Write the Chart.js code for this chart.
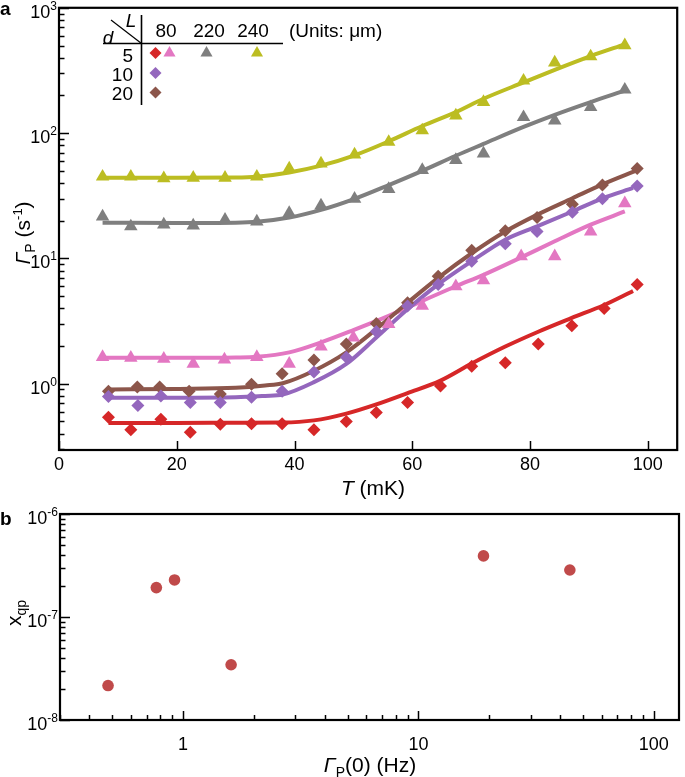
<!DOCTYPE html>
<html><head><meta charset="utf-8">
<script src="https://cdn.jsdelivr.net/npm/chart.js@4/dist/chart.umd.min.js"></script>
<style>
body{margin:0;background:#fff;width:685px;height:777px;position:relative;overflow:hidden;font-family:"Liberation Sans",Arial,sans-serif;}
canvas{position:absolute;left:0;}
#ca{top:0}
#cb{top:500px}
.t{position:absolute;font-size:18px;color:#000;white-space:nowrap;line-height:1;}
.g{font-size:19px;}
.ti{font-size:21px;}
.c{transform:translate(-50%,-50%);}
.r{transform:translate(-100%,-50%);}
.l{transform:translate(0,-50%);}
.t sub{font-size:14px;vertical-align:-5px;line-height:0;}
.t sup{font-size:13px;vertical-align:8px;line-height:0;}
.tk sup{font-size:12px;vertical-align:8px;}
</style></head><body>
<canvas id="ca" width="685" height="500"></canvas>
<canvas id="cb" width="685" height="277"></canvas>

<div class="t l" style="left:0;top:8px;font-weight:bold;font-size:19px">a</div>
<div class="t l" style="left:0;top:518px;font-weight:bold;font-size:19px">b</div>

<div class="t g c" style="left:131px;top:20px;font-style:italic">L</div>
<div class="t g c" style="left:108px;top:37px;font-style:italic">d</div>
<div class="t g c" style="left:166px;top:30px">80</div>
<div class="t g c" style="left:209px;top:30px">220</div>
<div class="t g c" style="left:253px;top:30px">240</div>
<div class="t g l" style="left:289px;top:30px">(Units: μm)</div>
<div class="t g r" style="left:133px;top:55px">5</div>
<div class="t g r" style="left:133px;top:74px">10</div>
<div class="t g r" style="left:133px;top:93px">20</div>

<div class="t ti" style="left:22px;top:233px;transform:translate(-50%,-50%) rotate(-90deg)"><i>Γ</i><sub>P</sub> (s<sup>-1</sup>)</div>
<div class="t ti c" style="left:373px;top:487px"><i>T</i> (mK)</div>
<div class="t ti" style="left:13px;top:613px;transform:translate(-50%,-50%) rotate(-90deg)">x<sub>qp</sub></div>
<div class="t ti c" style="left:370px;top:764px"><i>Γ</i><sub>P</sub>(0) (Hz)</div>

<script>
// ---------- Panel a data ----------
const redT   = [8.4, 12.2, 17.3, 22.3, 27.4, 32.7, 37.9, 43.3, 48.8, 53.9, 59.2, 64.8, 70.1, 75.8, 81.4, 87.1, 92.6, 98.2];
const redV   = [0.54, 0.43, 0.52, 0.41, 0.475, 0.48, 0.48, 0.43, 0.50, 0.59, 0.71, 0.96, 1.38, 1.47, 2.08, 2.90, 3.98, 6.2];
const purpleT = [8.4, 13.4, 17.3, 22.3, 27.4, 32.7, 37.9, 43.3, 48.8, 53.9, 59.2, 64.4, 70.1, 75.8, 81.2, 87.2, 92.3, 98.2];
const purpleV = [0.79, 0.67, 0.80, 0.71, 0.71, 0.78, 0.87, 1.24, 1.63, 2.61, 4.18, 6.2, 9.5, 13.1, 16.4, 23.4, 29.9, 37.9];
const brownT = [8.4, 13.3, 17.1, 22.1, 27.4, 32.7, 37.9, 43.3, 48.8, 53.9, 59.2, 64.4, 70.1, 75.8, 81.2, 87.2, 92.3, 98.2];
const brownV = [0.87, 0.94, 0.94, 0.87, 0.83, 0.99, 1.20, 1.55, 2.08, 3.02, 4.43, 7.2, 11.6, 16.6, 21.2, 27.1, 38.5, 52.2];
const pinkT  = [7.4, 12.2, 17.8, 22.8, 28.1, 33.6, 39.1, 44.5, 50.0, 56.0, 61.7, 67.4, 72.1, 78.5, 84.2, 90.3, 96.1];
const pinkV  = [1.63, 1.61, 1.58, 1.44, 1.56, 1.63, 1.44, 1.98, 2.34, 2.99, 4.18, 6.0, 6.7, 10.4, 10.4, 16.4, 27.5];
const grayT  = [7.4, 12.2, 17.8, 22.8, 28.2, 33.6, 39.1, 44.5, 50.2, 56.0, 61.7, 67.4, 72.1, 78.9, 84.2, 90.3, 96.1];
const grayV  = [21.6, 18.0, 18.6, 18.3, 20.3, 19.7, 23.0, 26.4, 29.9, 35.8, 50.7, 60.9, 68.7, 134, 126, 161, 222];
const yellowT = [7.4, 12.2, 17.8, 22.8, 28.2, 33.6, 39.1, 44.5, 50.2, 56.0, 61.7, 67.4, 72.1, 78.9, 84.2, 90.3, 96.1];
const yellowV = [44.9, 44.9, 43.5, 44.0, 44.0, 44.9, 52.2, 57.2, 67.4, 85, 105, 138, 177, 262, 366, 409, 502];

// fit curves
const redFitT = [8.4, 20, 30, 38, 43.3, 48.8, 53.9, 59.2, 64.8, 70.1, 75.8, 81.4, 87.1, 92.6, 97.5];
const redFitV = [0.487, 0.487, 0.488, 0.49, 0.51, 0.578, 0.685, 0.843, 1.06, 1.45, 1.98, 2.6, 3.35, 4.25, 5.5];
const purpleFitT = [8.4, 20, 30, 35, 38, 43.3, 48.8, 53.9, 59.2, 64.4, 70.1, 75.8, 81.2, 87.2, 92.3, 97.5];
const purpleFitV = [0.774, 0.774, 0.78, 0.80, 0.82, 1.03, 1.44, 2.34, 3.93, 6.2, 9.5, 14.1, 18.0, 23.7, 30.2, 36.5];
const brownFitT = [8.4, 20, 30, 35, 38, 43.3, 48.8, 53.9, 59.2, 64.4, 70.1, 75.8, 81.2, 87.2, 92.3, 98.2];
const brownFitV = [0.90, 0.91, 0.93, 0.97, 1.01, 1.27, 1.78, 2.73, 4.43, 7.0, 11.0, 16.4, 22.3, 30.2, 39, 50.6];
const pinkFitT = [7.4, 20, 30, 33.6, 39.1, 44.5, 50.0, 56.0, 61.7, 67.4, 72.1, 78.5, 84.2, 90.3, 96.1];
const pinkFitV = [1.61, 1.61, 1.62, 1.64, 1.78, 2.14, 2.68, 3.48, 4.58, 6.0, 7.4, 10.2, 13.7, 18.6, 23.7];
const grayFitT = [7.4, 20, 30, 33.6, 39.1, 44.5, 50.2, 56.0, 61.7, 67.4, 72.1, 78.9, 84.2, 90.3, 96.1];
const grayFitV = [19.3, 19.2, 19.3, 19.6, 21.2, 24.4, 29.9, 38.5, 50, 66, 82, 112, 140, 177, 218];
const yellowFitT = [7.4, 20, 30, 33.6, 39.1, 44.5, 50.2, 56.0, 61.7, 67.4, 72.1, 78.9, 84.2, 90.3, 96.1];
const yellowFitV = [44, 44, 44.2, 44.9, 48.5, 55, 66.5, 86, 114, 147, 188, 254, 320, 412, 511];

// ---------- Panel b data ----------
const gamma0 = [0.48, 0.77, 0.92, 1.60, 18.9, 44.0];
const xqp    = [2.16e-8, 1.93e-7, 2.29e-7, 3.44e-8, 3.92e-7, 2.86e-7];

// tick labels
const aXTicks = [0, 20, 40, 60, 80, 100];
const bXTicks = [1, 10, 100];

const COLORS = {red:'#d62728', purple:'#9467bd', brown:'#8c564b', pink:'#e377c2', gray:'#7f7f7f', yellow:'#bcbd22', dot:'#c04a4a'};
const FONT = {family:"'Liberation Sans', Arial, sans-serif", size:18};

const mk = (xs, ys) => xs.map((x, i) => ({x: x, y: ys[i]}));
const fitDs = (xs, ys, color) => ({data: mk(xs, ys), showLine: true, borderColor: color, borderWidth: 4,
  pointRadius: 0, pointHoverRadius: 0, cubicInterpolationMode: 'monotone', fill: false, order: 2});
const ptDs = (xs, ys, color, style) => ({data: mk(xs, ys), showLine: false, backgroundColor: color, borderColor: color,
  borderWidth: 0, pointStyle: style, pointRadius: style === 'triangle' ? 7.8 : 6.5, order: 1});

function logPositions(min, max) {
  const out = [];
  for (let e = Math.floor(Math.log10(min)) - 1; e <= Math.ceil(Math.log10(max)); e++) {
    for (let m = 1; m <= 9; m++) {
      const v = m * Math.pow(10, e);
      if (v >= min * 0.999 && v <= max * 1.001) out.push({v: v, major: m === 1, e: e});
    }
  }
  return out;
}
const plainDecade = (v) => {
  const e = Math.log10(v);
  const r = Math.round(e);
  return Math.abs(e - r) < 1e-6 ? String(Math.round(v)) : '';
};

function drawFrame(chart, opts) {
  const {ctx, chartArea: a} = chart;
  ctx.save();
  ctx.strokeStyle = '#000';
  ctx.lineWidth = 1.5;
  const ys = chart.scales.y, xs = chart.scales.x;
  logPositions(ys.min, ys.max).forEach(t => {
    const y = Math.round(ys.getPixelForValue(t.v)) + 0.5;
    ctx.beginPath(); ctx.moveTo(a.left, y); ctx.lineTo(a.left + (t.major ? 10 : 5.5), y); ctx.stroke();
  });
  if (opts.xLog) {
    logPositions(xs.min, xs.max).forEach(t => {
      const x = Math.round(xs.getPixelForValue(t.v)) + 0.5;
      ctx.beginPath(); ctx.moveTo(x, a.bottom); ctx.lineTo(x, a.bottom - (t.major ? 9 : 5)); ctx.stroke();
    });
  } else {
    xs.ticks.forEach(t => {
      const x = Math.round(xs.getPixelForValue(t.value)) + 0.5;
      ctx.beginPath(); ctx.moveTo(x, a.bottom); ctx.lineTo(x, a.bottom - 9); ctx.stroke();
    });
  }
  ctx.lineWidth = 2.2;
  ctx.strokeRect(a.left, a.top, a.right - a.left, a.bottom - a.top);
  ctx.restore();
}

// decade labels on the log y axes, placed through the chart's own scale
function addDecadeLabels(chart, canvasTop) {
  const ys = chart.scales.y, a = chart.chartArea;
  logPositions(ys.min, ys.max).filter(t => t.major).forEach(t => {
    const d = document.createElement('div');
    d.className = 't r tk';
    d.style.left = (a.left - 2) + 'px';
    d.style.top = (canvasTop + ys.getPixelForValue(t.v) + 4) + 'px';
    d.innerHTML = '10<sup>' + t.e + '</sup>';
    document.body.appendChild(d);
  });
}

const legendPlugin = {
  id: 'tableLegend',
  afterDraw(chart) {
    const ctx = chart.ctx;
    ctx.save();
    ctx.strokeStyle = '#000';
    ctx.lineWidth = 1.6;
    ctx.beginPath();
    ctx.moveTo(141.5, 15); ctx.lineTo(141.5, 105);
    ctx.moveTo(103, 43.5); ctx.lineTo(283, 43.5);
    ctx.stroke();
    ctx.lineWidth = 1.2;
    ctx.beginPath(); ctx.moveTo(111, 20); ctx.lineTo(141.5, 43.5); ctx.stroke();
    const items = [
      [155.5, 53, COLORS.red, 'rectRot', 6], [169.5, 53, COLORS.pink, 'triangle', 7],
      [206.5, 53, COLORS.gray, 'triangle', 7], [257, 53, COLORS.yellow, 'triangle', 7],
      [155.5, 73, COLORS.purple, 'rectRot', 6], [155.5, 92.5, COLORS.brown, 'rectRot', 6]
    ];
    items.forEach(([x, y, c, s, r]) => {
      ctx.fillStyle = c; ctx.strokeStyle = c;
      Chart.helpers.drawPoint(ctx, {pointStyle: s, radius: r, rotation: 0, borderWidth: 0}, x, y);
    });
    ctx.restore();
  }
};

const common = {
  responsive: false, animation: false, devicePixelRatio: 1, events: [],
  plugins: {legend: {display: false}, tooltip: {enabled: false}}
};

const chartA = new Chart(document.getElementById('ca'), {
  type: 'scatter',
  data: {datasets: [
    fitDs(yellowFitT, yellowFitV, COLORS.yellow),
    fitDs(grayFitT, grayFitV, COLORS.gray),
    fitDs(redFitT, redFitV, COLORS.red),
    fitDs(purpleFitT, purpleFitV, COLORS.purple),
    fitDs(brownFitT, brownFitV, COLORS.brown),
    fitDs(pinkFitT, pinkFitV, COLORS.pink),
    ptDs(yellowT, yellowV, COLORS.yellow, 'triangle'),
    ptDs(grayT, grayV, COLORS.gray, 'triangle'),
    ptDs(redT, redV, COLORS.red, 'rectRot'),
    ptDs(purpleT, purpleV, COLORS.purple, 'rectRot'),
    ptDs(brownT, brownV, COLORS.brown, 'rectRot'),
    ptDs(pinkT, pinkV, COLORS.pink, 'triangle')
  ]},
  options: Object.assign({}, common, {
    layout: {padding: {top: 5, right: 2, left: 0, bottom: 0}},
    scales: {
      x: {type: 'linear', min: 0, max: 105, grid: {display: false}, border: {display: false},
          afterBuildTicks: s => { s.ticks = aXTicks.map(v => ({value: v})); },
          ticks: {font: FONT, color: '#000', padding: -4, maxRotation: 0, autoSkip: false},
          afterFit: s => { s.height = 50; }},
      y: {type: 'logarithmic', min: 0.296, max: 1000, grid: {display: false}, border: {display: false},
          ticks: {display: false},
          afterFit: s => { s.width = 59; }}
    }
  }),
  plugins: [{id: 'frameA', afterDraw: c => drawFrame(c, {xLog: false})}, legendPlugin]
});

const chartB = new Chart(document.getElementById('cb'), {
  type: 'scatter',
  data: {datasets: [{data: mk(gamma0, xqp), showLine: false, backgroundColor: COLORS.dot, borderWidth: 0,
    pointStyle: 'circle', pointRadius: 5.8}]},
  options: Object.assign({}, common, {
    layout: {padding: {top: 14, right: 2, left: 0, bottom: 0}},
    scales: {
      x: {type: 'logarithmic', min: 0.3, max: 128, grid: {display: false}, border: {display: false},
          ticks: {font: FONT, color: '#000', padding: 6, maxRotation: 0, autoSkip: false,
                  callback: v => bXTicks.indexOf(Math.round(v * 1000) / 1000) >= 0 ? plainDecade(v) : ''},
          afterFit: s => { s.height = 57; }},
      y: {type: 'logarithmic', min: 1e-8, max: 1e-6, grid: {display: false}, border: {display: false},
          ticks: {display: false},
          afterFit: s => { s.width = 60; }}
    }
  }),
  plugins: [{id: 'frameB', afterDraw: c => drawFrame(c, {xLog: true})}]
});

addDecadeLabels(chartA, 0);
addDecadeLabels(chartB, 500);
</script>
</body></html>
